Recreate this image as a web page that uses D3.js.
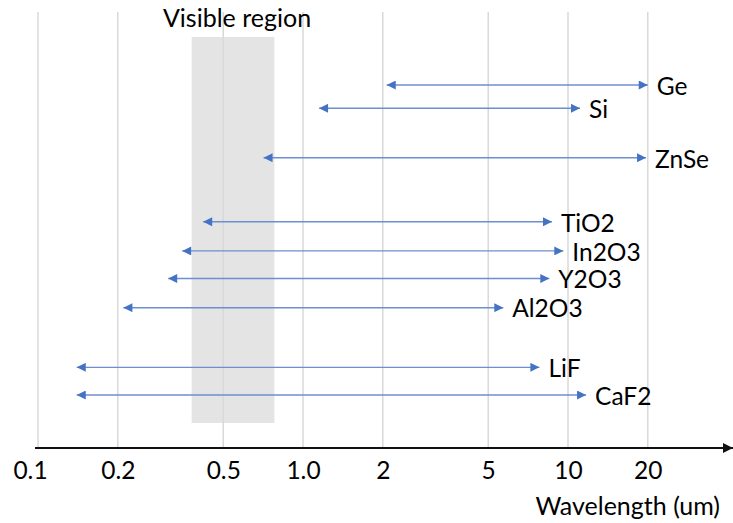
<!DOCTYPE html>
<html>
<head>
<meta charset="utf-8">
<title>Transparency ranges</title>
<script src="https://d3js.org/d3.v7.min.js"></script>
<style>
  body { margin: 0; background: #fff; }
  text { font-family: Lato, "Open Sans", sans-serif; fill: #000; }
</style>
</head>
<body>
<script>
// materials, top to bottom
var materials = ["Ge", "Si", "ZnSe", "TiO2", "In2O3", "Y2O3", "Al2O3", "LiF", "CaF2"];
var lowEdge  = [2.07, 1.15, 0.71, 0.42, 0.35, 0.31, 0.21, 0.14, 0.14];   // um
var highEdge = [20.0, 11.1, 19.7, 8.7, 9.6, 8.5, 5.7, 7.8, 11.7];       // um
// row slots (gaps between groups)
var rowSlot = [0, 0.8, 2.5, 4.7, 5.7, 6.65, 7.65, 9.7, 10.65];
var tickValues = [0.1, 0.2, 0.5, 1, 2, 5, 10, 20];
var tickLabels = ["0.1", "0.2", "0.5", "1.0", "2", "5", "10", "20"];
var visibleBand = [0.38, 0.78];

const w = 733, h = 523;
const axisY = 448;

const svg = d3.select("body").append("svg")
  .attr("width", w).attr("height", h);

const x = d3.scaleLog().domain([0.1, 40]).range([38, 38 + 265 * Math.log10(400)]);
const y = d3.scaleLinear().domain([0, 10.65]).range([85, 395]);

// grid lines
svg.append("g").selectAll("line")
  .data(tickValues).enter().append("line")
  .attr("x1", d => x(d)).attr("x2", d => x(d))
  .attr("y1", 12).attr("y2", axisY)
  .attr("stroke", "#d9d9d9").attr("stroke-width", 1.5);

// visible band
svg.append("rect")
  .attr("x", x(visibleBand[0]))
  .attr("width", x(visibleBand[1]) - x(visibleBand[0]))
  .attr("y", 37).attr("height", 423 - 37)
  .attr("fill", "#d9d9d9").attr("opacity", 0.7);

svg.append("text")
  .attr("x", (x(visibleBand[0]) + x(visibleBand[1])) / 2 + 4)
  .attr("y", 27)
  .attr("text-anchor", "middle")
  .style("font-size", "25px")
  .text("Visible region");

// arrow markers
const defs = svg.append("defs");
defs.append("marker").attr("id", "headEnd")
  .attr("viewBox", "0 0 10 10").attr("refX", 10).attr("refY", 5)
  .attr("markerUnits", "userSpaceOnUse")
  .attr("markerWidth", 10).attr("markerHeight", 9)
  .attr("orient", "auto")
  .append("path").attr("d", "M0,0L10,5L0,10Z").attr("fill", "#4472c4");
defs.append("marker").attr("id", "headStart")
  .attr("viewBox", "0 0 10 10").attr("refX", 0).attr("refY", 5)
  .attr("markerUnits", "userSpaceOnUse")
  .attr("markerWidth", 10).attr("markerHeight", 9)
  .attr("orient", "auto")
  .append("path").attr("d", "M10,0L0,5L10,10Z").attr("fill", "#4472c4");

const rows = materials.map((m, i) => ({ name: m, lo: lowEdge[i], hi: highEdge[i], slot: rowSlot[i] }));

svg.append("g").selectAll("line")
  .data(rows).enter().append("line")
  .attr("x1", d => x(d.lo)).attr("x2", d => x(d.hi))
  .attr("y1", d => y(d.slot)).attr("y2", d => y(d.slot))
  .attr("stroke", "#6d8fd0").attr("stroke-width", 1.4)
  .attr("marker-start", "url(#headStart)")
  .attr("marker-end", "url(#headEnd)");

svg.append("g").selectAll("text")
  .data(rows).enter().append("text")
  .attr("x", d => x(d.hi) + 9)
  .attr("y", d => y(d.slot) + 1)
  .attr("dy", "0.36em")
  .style("font-size", "24.5px")
  .text(d => d.name);

// x axis
const xAxis = d3.axisBottom(x)
  .tickValues(tickValues)
  .tickFormat((d, i) => tickLabels[i])
  .tickSize(0).tickPadding(14);

const ax = svg.append("g")
  .attr("transform", "translate(0," + axisY + ")")
  .call(xAxis);
ax.select(".domain").remove();
ax.selectAll("text")
  .style("font-size", "24.5px").style("font-family", "Lato, sans-serif").attr("fill", "#000")
  .attr("dx", (d, i) => i === 0 ? -8 : 0);

defs.append("marker").attr("id", "axisHead")
  .attr("viewBox", "0 0 10 10").attr("refX", 10).attr("refY", 5)
  .attr("markerUnits", "userSpaceOnUse")
  .attr("markerWidth", 10).attr("markerHeight", 10)
  .attr("orient", "auto")
  .append("path").attr("d", "M0,0L10,5L0,10Z").attr("fill", "#111");

svg.append("line")
  .attr("x1", 35).attr("x2", 733)
  .attr("y1", axisY).attr("y2", axisY)
  .attr("stroke", "#111").attr("stroke-width", 2.2)
  .attr("marker-end", "url(#axisHead)");

svg.append("text")
  .attr("x", 720).attr("y", 515)
  .attr("text-anchor", "end")
  .style("font-size", "25px")
  .text("Wavelength (um)");
</script>
</body>
</html>
